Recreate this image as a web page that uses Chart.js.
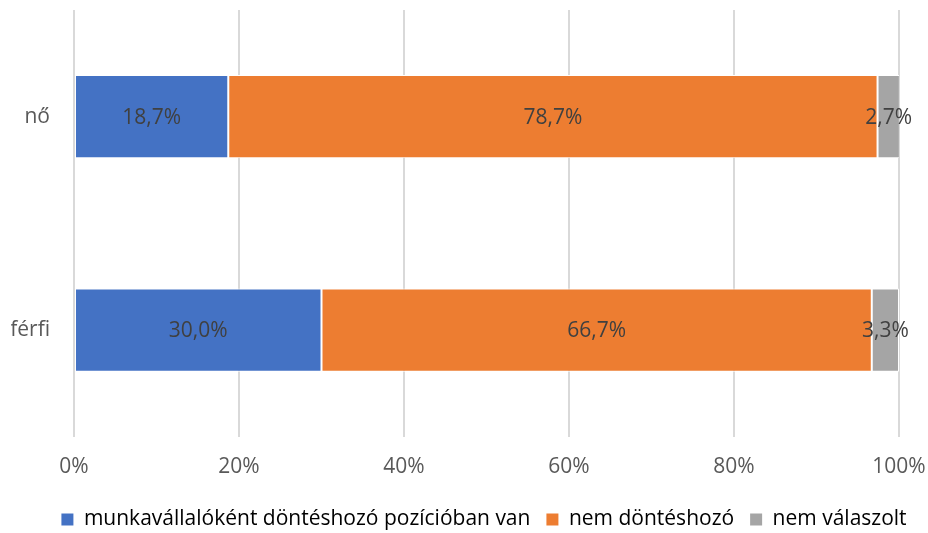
<!DOCTYPE html>
<html>
<head>
<meta charset="utf-8">
<script src="https://cdn.jsdelivr.net/npm/chart.js@4"></script>
<style>
  html, body { margin: 0; padding: 0; background: #fff; }
  #wrap { width: 928px; height: 533px; }
</style>
</head>
<body>
<div id="wrap"><canvas id="myChart"></canvas></div>
<script>
const categories = ['nő', 'férfi'];
const seriesNames = ['munkavállalóként döntéshozó pozícióban van', 'nem döntéshozó', 'nem válaszolt'];
const decisionMaker = [18.7, 30.0];
const notDecisionMaker = [78.7, 66.7];
const noAnswer = [2.7, 3.3];
const tickValues = [0, 20, 40, 60, 80, 100];

const colors = ['#4472C4', '#ED7D31', '#A5A5A5'];
const FONT = '"Open Sans", "Noto Sans", sans-serif';
const SIZE = 21;

// writes each segment's percentage in its middle, Hungarian decimal comma
const valueLabels = {
  id: 'valueLabels',
  afterLayout(chart) {
    // legend sits a bit right of centre and close to the bottom edge
    const lg = chart.legend;
    lg.left += 29;
    lg.right += 29;
    lg.top += 7;
    lg.bottom += 7;
  },
  afterDatasetsDraw(chart) {
    const ctx = chart.ctx;
    ctx.save();
    ctx.font = SIZE + 'px ' + FONT;
    ctx.fillStyle = '#404040';
    ctx.textAlign = 'center';
    ctx.textBaseline = 'middle';
    chart.data.datasets.forEach((ds, i) => {
      chart.getDatasetMeta(i).data.forEach((bar, j) => {
        const p = bar.getProps(['x', 'y', 'base']);
        const cx = (p.x + p.base) / 2;
        ctx.fillText(ds.data[j].toFixed(1).replace('.', ',') + '%', cx, p.y + 1);
      });
    });
    ctx.restore();
  }
};

// axes should not push the plot inward for their edge labels
const noEdgePadding = axis => {
  axis.paddingTop = 0;
  axis.paddingBottom = 0;
  axis.paddingLeft = 0;
  axis.paddingRight = 0;
};

const datasets = [decisionMaker, notDecisionMaker, noAnswer].map((d, i) => ({
  label: seriesNames[i],
  data: d,
  backgroundColor: colors[i],
  borderColor: '#ffffff',
  borderWidth: 1,
  borderSkipped: false,
  categoryPercentage: 1,
  barPercentage: 0.39
}));

var ctx = document.getElementById('myChart').getContext('2d');
var chart = new Chart(ctx, {
  type: 'bar',
  data: { labels: categories, datasets: datasets },
  options: {
    indexAxis: 'y',
    responsive: true,
    maintainAspectRatio: false,
    animation: false,
    layout: { padding: { left: 11, right: 29, top: 10, bottom: 0 } },
    scales: {
      x: {
        stacked: true,
        min: 0,
        max: 100,
        afterBuildTicks(axis) { axis.ticks = tickValues.map(v => ({ value: v })); },
        afterFit(axis) {
          noEdgePadding(axis);
          axis.height -= 12;
        },
        grid: { color: '#d9d9d9', lineWidth: 2, drawTicks: false },
        border: { display: false },
        ticks: {
          padding: 18,
          color: '#595959',
          font: { family: FONT, size: SIZE },
          callback: v => v + '%'
        }
      },
      y: {
        stacked: true,
        afterFit(axis) {
          noEdgePadding(axis);
          axis.width = 63;
        },
        grid: { display: false, drawTicks: false },
        border: { display: false },
        ticks: {
          padding: 24,
          color: '#595959',
          font: { family: FONT, size: SIZE }
        }
      }
    },
    plugins: {
      tooltip: { enabled: false },
      legend: {
        position: 'bottom',
        labels: {
          color: '#595959',
          font: { family: FONT, size: SIZE },
          boxWidth: 12,
          boxHeight: 12,
          padding: 16,
          generateLabels(chart) {
            return chart.data.datasets.map((ds, i) => ({
              text: ds.label,
              fillStyle: ds.backgroundColor,
              strokeStyle: ds.backgroundColor,
              lineWidth: 0,
              datasetIndex: i
            }));
          }
        }
      }
    }
  },
  plugins: [valueLabels]
});
</script>
</body>
</html>
